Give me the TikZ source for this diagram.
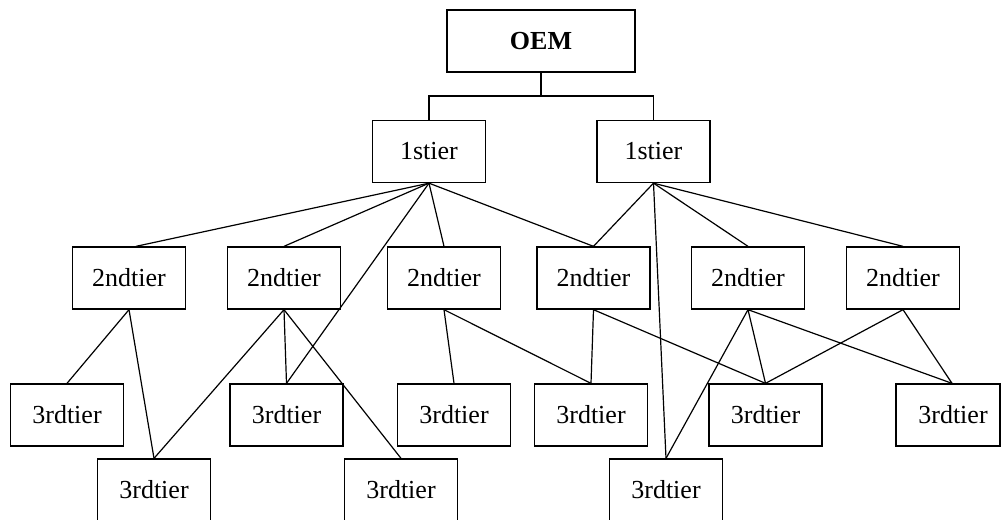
\documentclass[tikz,border=0pt]{standalone}
\usepackage{fontspec}
\setmainfont{Liberation Serif}
\usetikzlibrary{calc}
\tikzset{
  tierbox/.style={draw, line width=1pt, minimum width=84.75pt, minimum height=46.5pt, inner sep=0pt, font=\fontsize{19.5}{22}\selectfont},
  oembox/.style={tierbox, minimum width=141pt, font=\fontsize{19.5}{22}\selectfont\bfseries},
  link/.style={line width=0.9pt}
}
\begin{document}
\begin{tikzpicture}[x=0.75pt, y=-0.75pt]
\useasboundingbox (0,0) rectangle (1002,519);
\clip (0,0) rectangle (1002,519);
% nodes
\node[oembox] (oem) at (541,41) {OEM};
\node[tierbox] (t1a) at (429,151.5) {1stier};
\node[tierbox] (t1b) at (653.5,151.5) {1stier};
\node[tierbox] (s1) at (129,278) {2ndtier};
\node[tierbox] (s2) at (284,278) {2ndtier};
\node[tierbox] (s3) at (444,278) {2ndtier};
\node[tierbox] (s4) at (593.5,278) {2ndtier};
\node[tierbox] (s5) at (748,278) {2ndtier};
\node[tierbox] (s6) at (903,278) {2ndtier};
\node[tierbox] (rA) at (67,415) {3rdtier};
\node[tierbox] (rB) at (286.5,415) {3rdtier};
\node[tierbox] (rC) at (454,415) {3rdtier};
\node[tierbox] (rD) at (591,415) {3rdtier};
\node[tierbox] (rE) at (765.5,415) {3rdtier};
\node[tierbox, minimum width=78pt] (rF) at (948,415) {\hspace*{7.5pt}3rdtier};
\node[tierbox] (rG) at (154,490) {3rdtier};
\node[tierbox] (rH) at (401,490) {3rdtier};
\node[tierbox] (rI) at (666,490) {3rdtier};
% OEM connector
\coordinate (bar) at (541,96);
\draw[link] (oem.south) -- (bar) -| (t1a.north);
\draw[link] (bar) -| (t1b.north);
% first tier links
\draw[link] (t1a.south) -- ($(s1.north)+(7,0)$);
\draw[link] (t1a.south) -- (s2.north);
\draw[link] (t1a.south) -- (s3.north);
\draw[link] (t1a.south) -- (s4.north);
\draw[link] (t1a.south) -- (rB.north);
\draw[link] (t1b.south) -- (s4.north);
\draw[link] (t1b.south) -- (s5.north);
\draw[link] (t1b.south) -- (s6.north);
\draw[link] (t1b.south) -- (rI.north);
% second tier links
\draw[link] (s1.south) -- (rA.north);
\draw[link] (s1.south) -- (rG.north);
\draw[link] (s2.south) -- (rB.north);
\draw[link] (s2.south) -- (rG.north);
\draw[link] (s2.south) -- (rH.north);
\draw[link] (s3.south) -- (rC.north);
\draw[link] (s3.south) -- (rD.north);
\draw[link] (s4.south) -- (rD.north);
\draw[link] (s4.south) -- (rE.north);
\draw[link] (s5.south) -- (rI.north);
\draw[link] (s5.south) -- (rE.north);
\draw[link] (s5.south) -- ($(rF.north)+(4,0)$);
\draw[link] (s6.south) -- (rE.north);
\draw[link] (s6.south) -- ($(rF.north)+(4,0)$);
\end{tikzpicture}
\end{document}
